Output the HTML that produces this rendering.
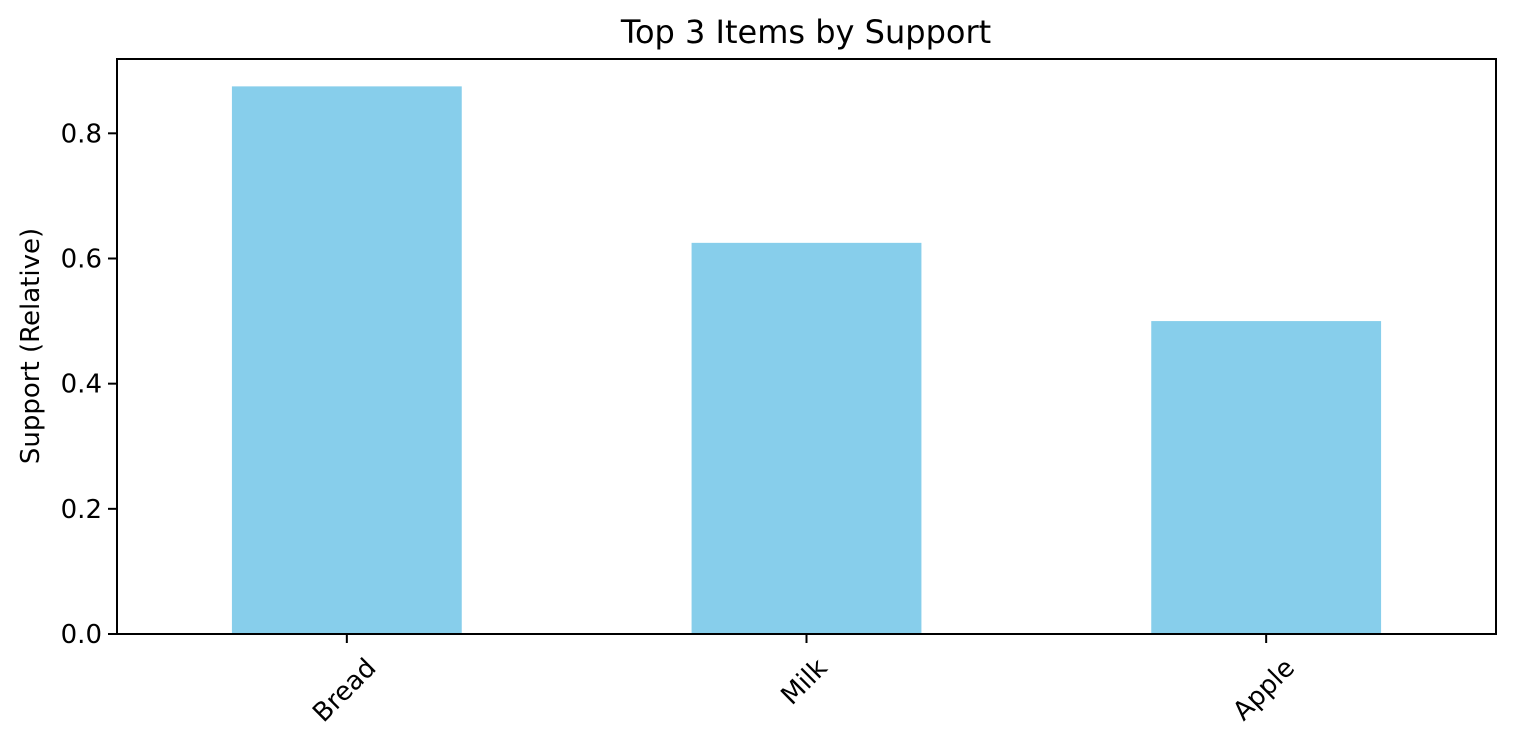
<!DOCTYPE html>
<html><head><meta charset="utf-8"><style>
body{margin:0;background:#fff;}
svg{display:block;font-family:"DejaVu Sans","Liberation Sans",sans-serif;}
</style></head><body>
<svg id="chart" width="1514" height="746">
<text x="806" y="43" font-size="32" text-anchor="middle">Top 3 Items by Support</text>
<text transform="translate(39,346) rotate(-90)" font-size="26" text-anchor="middle">Support (Relative)</text>
<g id="bars"></g><g id="ticks"></g>
<rect x="117" y="59" width="1379" height="575" fill="none" stroke="#000" stroke-width="2"/>
</svg>
<script>
const categories=["Bread","Milk","Apple"];
const values=[0.875,0.625,0.5];
const yTicks=[0,0.2,0.4,0.6,0.8];
const yTickLabels=["0.0","0.2","0.4","0.6","0.8"];
const L=117,R=1496,T=59,B=634;
const ymax=Math.max(...values)*1.05;
const y=v=>B-(v/ymax)*(B-T);
const x=i=>L+(i+0.5)*(R-L)/categories.length;
const bw=0.5*(R-L)/categories.length;
const NS="http://www.w3.org/2000/svg";
const bars=document.getElementById('bars'),ticks=document.getElementById('ticks');
values.forEach((v,i)=>{
 const r=document.createElementNS(NS,'rect');
 r.setAttribute('x',x(i)-bw/2);r.setAttribute('y',y(v));r.setAttribute('width',bw);r.setAttribute('height',B-y(v));r.setAttribute('fill','#87ceeb');
 
 
 bars.appendChild(r);
 const t=document.createElementNS(NS,'line');
 t.setAttribute('x1',x(i));t.setAttribute('x2',x(i));t.setAttribute('y1',B);t.setAttribute('y2',B+9);t.setAttribute('stroke','#000');t.setAttribute('stroke-width','2');
 
 
 ticks.appendChild(t);
 const tx=document.createElementNS(NS,'text');
 tx.textContent=categories[i];tx.setAttribute('font-size','26');tx.setAttribute('text-anchor','middle');tx.setAttribute('dominant-baseline','central');
 
 
 ticks.appendChild(tx);
 const w=tx.getComputedTextLength();const h=(w+19)*0.7071;
 const cy=B+23+h/2;
 tx.setAttribute('x',x(i)-2);tx.setAttribute('y',cy);tx.setAttribute('transform',`rotate(-45 ${x(i)-2} ${cy})`);
});
yTicks.forEach((v,i)=>{
 const t=document.createElementNS(NS,'line');
 t.setAttribute('x1',L-9);t.setAttribute('x2',L);t.setAttribute('y1',y(v));t.setAttribute('y2',y(v));t.setAttribute('stroke','#000');t.setAttribute('stroke-width','2');
 
 
 ticks.appendChild(t);
 const tx=document.createElementNS(NS,'text');
 tx.textContent=yTickLabels[i];tx.setAttribute('x',L-15);tx.setAttribute('y',y(v)+9);tx.setAttribute('font-size','26');tx.setAttribute('text-anchor','end');
 
 
 ticks.appendChild(tx);
});
</script>
</body></html>
